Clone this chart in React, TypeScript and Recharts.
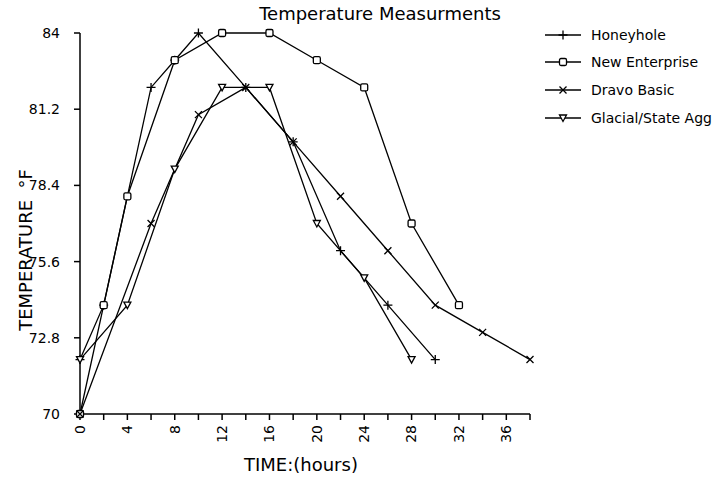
import { LineChart, Line, XAxis, YAxis } from "recharts"

// hours on the x axis, every other tick labelled
const hourTicks = [0, 2, 4, 6, 8, 10, 12, 14, 16, 18, 20, 22, 24, 26, 28, 30, 32, 34, 36, 38]
const tempTicks = [70, 72.8, 75.6, 78.4, 81.2, 84]

const honeyholeHours = [0, 2, 6, 8, 10, 14, 18, 22, 26, 30]
const honeyholeTemps = [72, 74, 82, 83, 84, 82, 80, 76, 74, 72]

const enterpriseHours = [0, 2, 4, 8, 12, 16, 20, 24, 28, 32]
const enterpriseTemps = [70, 74, 78, 83, 84, 84, 83, 82, 77, 74]

const dravoHours = [0, 6, 10, 14, 18, 22, 26, 30, 34, 38]
const dravoTemps = [70, 77, 81, 82, 80, 78, 76, 74, 73, 72]

const glacialHours = [0, 4, 8, 12, 16, 20, 24, 28]
const glacialTemps = [72, 74, 79, 82, 82, 77, 75, 72]

type Shape = "plus" | "square" | "cross" | "triangle"

const toPoints = (hours: number[], temps: number[]) => hours.map((t, i) => ({ t, temp: temps[i] }))

const series: { name: string; shape: Shape; data: { t: number; temp: number }[] }[] = [
  { name: "Honeyhole", shape: "plus", data: toPoints(honeyholeHours, honeyholeTemps) },
  { name: "New Enterprise", shape: "square", data: toPoints(enterpriseHours, enterpriseTemps) },
  { name: "Dravo Basic", shape: "cross", data: toPoints(dravoHours, dravoTemps) },
  { name: "Glacial/State Agg", shape: "triangle", data: toPoints(glacialHours, glacialTemps) },
]

const font = "'DejaVu Sans', sans-serif"

function Marker({ shape, cx, cy }: { shape: Shape; cx: number; cy: number }) {
  const s = { stroke: "#000", strokeWidth: 1.3 }
  switch (shape) {
    case "plus":
      return <path d={`M${cx - 4.5},${cy}h9M${cx},${cy - 4.5}v9`} {...s} fill="none" />
    case "square":
      return <rect x={cx - 3.5} y={cy - 3.5} width={7} height={7} rx={1.5} fill="#fff" {...s} />
    case "cross":
      return <path d={`M${cx - 3.5},${cy - 3.5}l7,7M${cx - 3.5},${cy + 3.5}l7,-7`} {...s} fill="none" />
    case "triangle":
      return <path d={`M${cx - 3.5},${cy - 3}L${cx + 3.5},${cy - 3}L${cx},${cy + 3.5}Z`} fill="#fff" {...s} />
  }
}

function HourTick({ x, y, payload }: any) {
  if (payload.value % 4 !== 0) return <g />
  return (
    <text
      x={x}
      y={y + 3}
      transform={`rotate(-90, ${x}, ${y + 3})`}
      textAnchor="end"
      dy="0.35em"
      fontSize={14}
      fontFamily={font}
      fill="#000"
    >
      {payload.value}
    </text>
  )
}

export default function App() {
  return (
    <div style={{ position: "absolute", left: 0, top: 0, width: 724, height: 488, background: "#fff" }}>
      <LineChart width={724} height={488} margin={{ top: 33, right: 194, bottom: 0, left: 20 }}>
        <XAxis
          type="number"
          dataKey="t"
          domain={[0, 38]}
          ticks={hourTicks}
          interval={0}
          height={74}
          tick={<HourTick />}
          tickSize={6}
          stroke="#000"
          strokeWidth={1.5}
          allowDuplicatedCategory={false}
        />
        <YAxis
          type="number"
          domain={[70, 84]}
          ticks={tempTicks}
          interval={0}
          width={60}
          tickSize={6}
          tickMargin={14}
          stroke="#000"
          strokeWidth={1.5}
          tick={{ fill: "#000", fontSize: 14, fontFamily: font }}
        />
        {series.map((s) => (
          <Line
            key={s.name}
            data={s.data}
            dataKey="temp"
            name={s.name}
            type="linear"
            stroke="#000"
            strokeWidth={1.3}
            isAnimationActive={false}
            dot={(p: any) => <Marker key={p.index} shape={s.shape} cx={p.cx} cy={p.cy} />}
            activeDot={false}
          />
        ))}
      </LineChart>

      <div style={{ position: "absolute", left: 0, width: 760, top: 3, textAlign: "center", fontFamily: font, fontSize: 18 }}>
        Temperature Measurments
      </div>
      <div
        style={{
          position: "absolute",
          left: 25,
          top: 250,
          transform: "translate(-50%, -50%) rotate(-90deg)",
          whiteSpace: "nowrap",
          fontFamily: font,
          fontSize: 18,
        }}
      >
        TEMPERATURE &nbsp;°F
      </div>
      <div style={{ position: "absolute", left: 244, top: 454, fontFamily: font, fontSize: 18 }}>TIME:(hours)</div>

      <div style={{ position: "absolute", left: 543, top: 21 }}>
        {series.map((s) => (
          <div key={s.name} style={{ display: "flex", alignItems: "center", height: 27.6, fontFamily: font, fontSize: 14 }}>
            <svg width={40} height={14} style={{ marginRight: 8 }}>
              <line x1={2} y1={7} x2={38} y2={7} stroke="#000" strokeWidth={1.3} />
              <Marker shape={s.shape} cx={20} cy={7} />
            </svg>
            <span>{s.name}</span>
          </div>
        ))}
      </div>
    </div>
  )
}
